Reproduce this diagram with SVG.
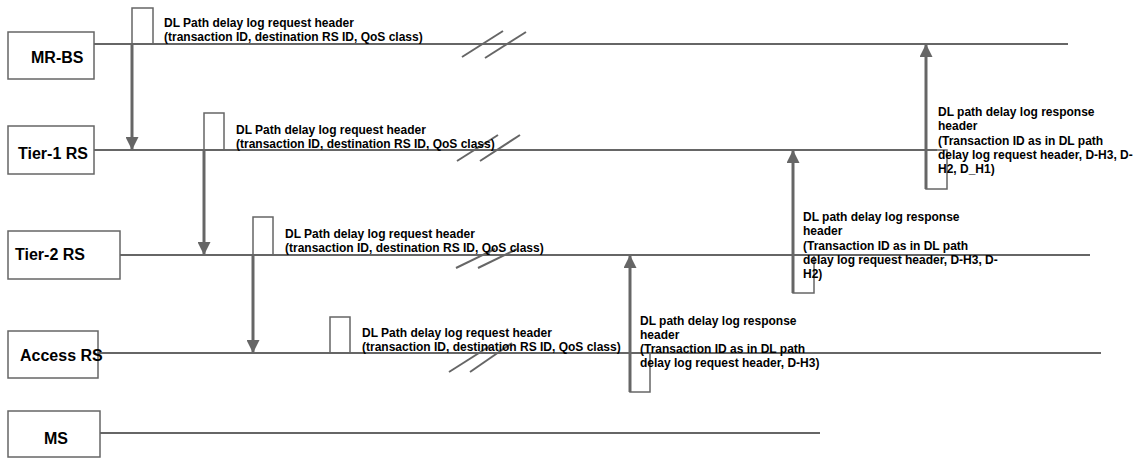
<svg xmlns="http://www.w3.org/2000/svg" width="1137" height="460" viewBox="0 0 1137 460">
<defs>
<style>
.box{fill:#fff;stroke:#666;stroke-width:1.5}
.life{stroke:#666;stroke-width:2;fill:none}
.pulse{fill:none;stroke:#666;stroke-width:1.5}
.arr{stroke:#666;stroke-width:3;fill:none;marker-end:url(#ah)}
.sl{stroke:#666;stroke-width:2}
.nl{font-family:"Liberation Sans",Arial,sans-serif;font-weight:bold;font-size:16px;fill:#000}
.ml{font-family:"Liberation Sans",Arial,sans-serif;font-weight:bold;font-size:12px;fill:#000}
</style>
<marker id="ah" markerWidth="13" markerHeight="13" refX="12" refY="6.5" orient="auto" markerUnits="userSpaceOnUse">
<path d="M0,0 L13,6.5 L0,13 z" fill="#666"/>
</marker>
</defs>
<rect width="1137" height="460" fill="#fff"/>
<g id="lifelines">
<line class="life" x1="94" y1="44" x2="1068" y2="44"/>
<line class="life" x1="94" y1="150" x2="937" y2="150"/>
<line class="life" x1="120" y1="255" x2="1090" y2="255"/>
<line class="life" x1="98" y1="353" x2="1101" y2="353"/>
<line class="life" x1="100" y1="433" x2="820" y2="433"/>
</g>
<g id="node-mrbs"><rect class="box" x="8" y="32" width="86" height="47"/><text class="nl" x="31" y="63">MR-BS</text></g>
<g id="node-tier1"><rect class="box" x="8" y="126" width="86" height="48"/><text class="nl" x="18" y="159">Tier-1 RS</text></g>
<g id="node-tier2"><rect class="box" x="8" y="231" width="112" height="48"/><text class="nl" x="15" y="260">Tier-2 RS</text></g>
<g id="node-access"><rect class="box" x="8" y="331" width="90" height="47"/><text class="nl" x="20" y="361">Access RS</text></g>
<g id="node-ms"><rect class="box" x="8" y="411" width="92" height="46"/><text class="nl" x="44" y="444">MS</text></g>
<g id="connectors">
<rect class="pulse" x="132" y="8" width="21" height="36"/>
<rect class="pulse" x="204" y="113" width="20" height="37"/>
<rect class="pulse" x="253" y="217" width="20" height="38"/>
<rect class="pulse" x="330" y="317" width="20" height="36"/>
<rect class="pulse" x="926" y="150" width="21" height="39"/>
<rect class="pulse" x="793" y="255" width="21" height="38"/>
<rect class="pulse" x="630" y="353" width="20" height="39"/>
<line class="arr" x1="132" y1="44" x2="132" y2="149"/>
<line class="arr" x1="204" y1="150" x2="204" y2="254"/>
<line class="arr" x1="253" y1="255" x2="253" y2="352"/>
<line class="arr" x1="926" y1="189" x2="926" y2="45"/>
<line class="arr" x1="793" y1="293" x2="793" y2="151"/>
<line class="arr" x1="630" y1="392" x2="630" y2="256"/>
<line class="sl" x1="462" y1="57" x2="503" y2="31"/>
<line class="sl" x1="485" y1="58" x2="526" y2="32"/>
<line class="sl" x1="457" y1="161" x2="498" y2="135"/>
<line class="sl" x1="480" y1="161" x2="520" y2="135"/>
<line class="sl" x1="456" y1="268" x2="495" y2="249"/>
<line class="sl" x1="478" y1="268" x2="517" y2="249"/>
<line class="sl" x1="449" y1="372" x2="490" y2="346"/>
<line class="sl" x1="470" y1="372" x2="512" y2="343"/>
</g>
<g id="labels">
<text class="ml" x="164" y="27">DL Path delay log request header</text>
<text class="ml" x="164" y="41">(transaction ID, destination RS ID, QoS class)</text>
<text class="ml" x="236" y="134">DL Path delay log request header</text>
<text class="ml" x="236" y="148">(transaction ID, destination RS ID, QoS class)</text>
<text class="ml" x="285" y="238">DL Path delay log request header</text>
<text class="ml" x="285" y="252">(transaction ID, destination RS ID, QoS class)</text>
<text class="ml" x="362" y="337">DL Path delay log request header</text>
<text class="ml" x="362" y="351">(transaction ID, destination RS ID, QoS class)</text>
<text class="ml" x="938" y="116">DL path delay log response</text>
<text class="ml" x="938" y="130">header</text>
<text class="ml" x="938" y="145">(Transaction ID as in DL path</text>
<text class="ml" x="938" y="159">delay log request header, D-H3, D-</text>
<text class="ml" x="938" y="173">H2, D_H1)</text>
<text class="ml" x="803" y="221">DL path delay log response</text>
<text class="ml" x="803" y="235">header</text>
<text class="ml" x="803" y="250">(Transaction ID as in DL path</text>
<text class="ml" x="803" y="264">delay log request header, D-H3, D-</text>
<text class="ml" x="803" y="278">H2)</text>
<text class="ml" x="640" y="325">DL path delay log response</text>
<text class="ml" x="640" y="339">header</text>
<text class="ml" x="640" y="353">(Transaction ID as in DL path</text>
<text class="ml" x="640" y="367">delay log request header, D-H3)</text>
</g>
</svg>
